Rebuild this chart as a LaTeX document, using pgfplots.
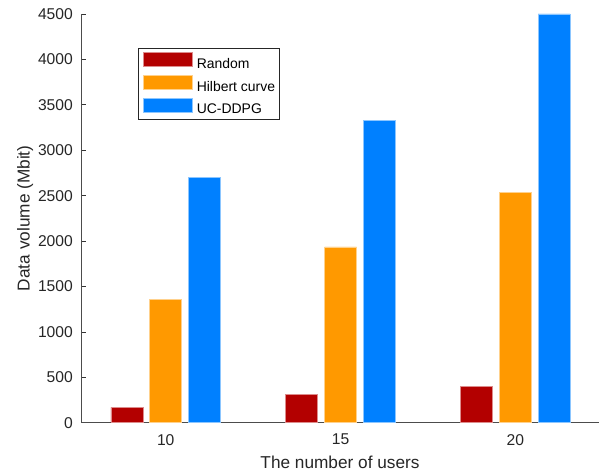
\documentclass[border=0pt]{standalone}
\usepackage{fontspec}
\setmainfont{Liberation Sans}
\usepackage{pgfplots}
\pgfplotsset{compat=1.18}
\definecolor{cRand}{RGB}{179,0,0}
\definecolor{cHil}{RGB}{255,153,0}
\definecolor{cUC}{RGB}{0,128,255}
\definecolor{txt}{RGB}{38,38,38}
\begin{document}
\begin{tikzpicture}
\useasboundingbox (0bp,0bp) rectangle (604bp,474bp);
\begin{axis}[
  at={(81bp,51.3bp)}, anchor=south west,
  scale only axis, width=518bp, height=408.7bp,
  xmin=7.577, xmax=22.39, ymin=0, ymax=4500,
  axis x line*=bottom, axis y line*=left,
  axis line style={-, line width=0.8bp, black!70},
  xtick={10,15,20}, ytick={0,500,...,4500},
  tick align=inside,
  major tick length=5.5bp,
  tick style={line width=0.7bp, black!80},
  /pgf/number format/assume math mode=true,
  /pgf/number format/1000 sep={},
  ticklabel style={font=\fontsize{15.7}{18}\selectfont, text=txt},
  yticklabel style={inner sep=0pt, anchor=east, xshift=-8bp},
  xticklabel style={inner sep=0pt, anchor=north, yshift=-11.3bp},
  xlabel={The number of users},
  ylabel={Data volume (Mbit)},
  label style={font=\fontsize{17.3}{20}\selectfont, text=txt},
  xlabel style={at={(axis description cs:0.5,-0.111)}, anchor=base, inner sep=0pt},
  ylabel style={at={(axis description cs:-0.108,0.5)}, anchor=center, inner sep=0pt},
  legend cell align=left,
  legend image code/.code={\fill[#1] (0bp,-2bp) rectangle (49bp,12bp);},
  legend style={at={(0.111,0.916)}, anchor=north west, draw=black!85, line width=0.6bp,
    font=\fontsize{14}{16}\selectfont, text=black,
    inner xsep=4.4bp, inner ysep=3.7bp, row sep=4.5bp, column sep=4bp,
    nodes={inner sep=0pt}},
]
\addplot[ybar, bar width=0.915, bar shift=-1.11, fill=cRand, draw=cRand!45!white, line width=0.6bp]
  coordinates {(10,170) (15,315) (20,400)};
\addplot[ybar, bar width=0.915, bar shift=0, fill=cHil, draw=cHil!45!white, line width=0.6bp]
  coordinates {(10,1355) (15,1935) (20,2540)};
\addplot[ybar, bar width=0.915, bar shift=1.11, fill=cUC, draw=cUC!45!white, line width=0.6bp]
  coordinates {(10,2700) (15,3325) (20,4500)};
\legend{Random, Hilbert curve, UC-DDPG}
\end{axis}
\end{tikzpicture}
\end{document}
